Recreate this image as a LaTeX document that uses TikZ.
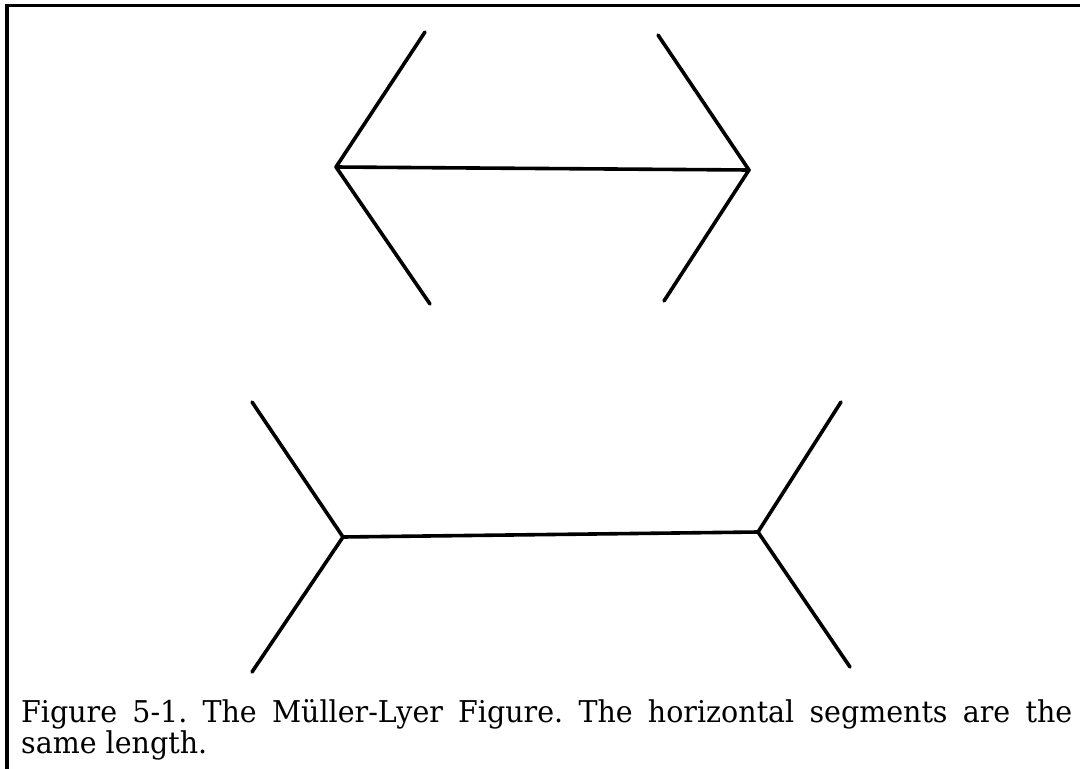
\documentclass[tikz,border=0pt]{standalone}
\usepackage{fontspec}
\setmainfont{DejaVu Serif}[FakeStretch=0.95]
\begin{document}
\begin{tikzpicture}[x=1pt,y=-1pt,
  stroke/.style={line width=3.6pt,line cap=round,line join=round},
  frame/.style={line width=3.2pt},
  captext/.style={anchor=base west,inner sep=0pt,font=\fontsize{30}{32}\selectfont\frenchspacing}]
\useasboundingbox (0,0) rectangle (1080,769);
% frame
\coordinate (fl) at (7,769);
\coordinate (ftr) at (1080,5.5);
\draw[frame] (fl) -- (7,4) (5.5,5.5) -- (ftr);
% top figure
\coordinate (A) at (336,167);
\coordinate (B) at (749,170);
\coordinate (A1) at (425,32);
\coordinate (A2) at (430,304);
\coordinate (B1) at (658,35);
\coordinate (B2) at (664,301);
\draw[stroke] (A1) -- (A) -- (A2);
\draw[stroke] (B1) -- (B) -- (B2);
\draw[stroke] (A) -- (B);
% bottom figure
\coordinate (C) at (343,537);
\coordinate (D) at (758,532);
\coordinate (C1) at (252,402);
\coordinate (C2) at (252,672);
\coordinate (D1) at (841,402);
\coordinate (D2) at (850,667);
\draw[stroke] (C1) -- (C) -- (C2);
\draw[stroke] (D1) -- (D) -- (D2);
\draw[stroke] (C) -- (D);
% caption
\node[captext] (cap1) at (21,722)
  {\makebox[1051pt][s]{Figure 5-1. The Müller-Lyer Figure. The horizontal segments are the}};
\node[captext] (cap2) at (21,753) {same length.};
\end{tikzpicture}
\end{document}
